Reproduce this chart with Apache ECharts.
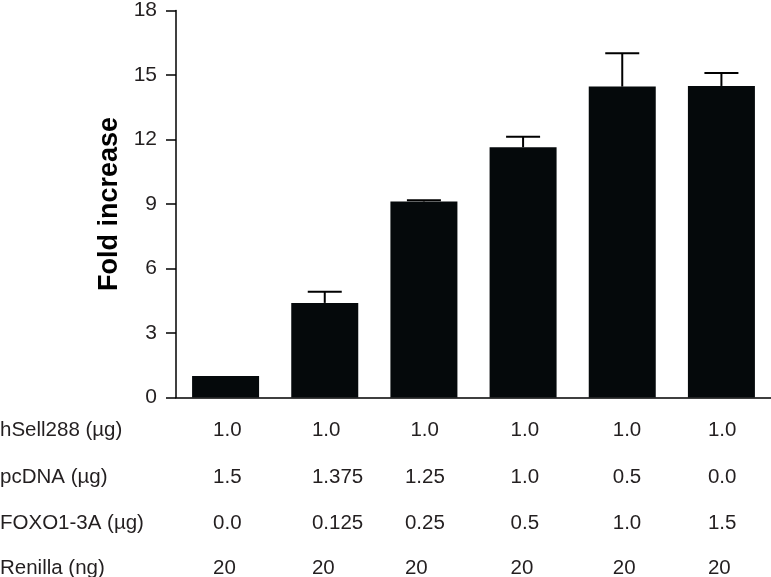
<!DOCTYPE html>
<html><head><meta charset="utf-8">
<script src="https://cdn.jsdelivr.net/npm/echarts@6/dist/echarts.min.js"></script>
<style>html,body{margin:0;padding:0;background:#fff}#c{width:771px;height:577px}</style>
</head><body><div id="c"></div>
<script>
const categories = ['1', '2', '3', '4', '5', '6'];
const foldIncrease = [1.0, 4.40, 9.12, 11.64, 14.46, 14.49];
const errorUpper = [1.0, 4.92, 9.17, 12.13, 16.01, 15.09];
const yAxisName = 'Fold increase';
const rowLabels = ['hSell288 (µg)', 'pcDNA (µg)', 'FOXO1-3A (µg)', 'Renilla (ng)'];
const hSell288 = ['1.0', '1.0', '1.0', '1.0', '1.0', '1.0'];
const pcDNA = ['1.5', '1.375', '1.25', '1.0', '0.5', '0.0'];
const foxo13A = ['0.0', '0.125', '0.25', '0.5', '1.0', '1.5'];
const renilla = ['20', '20', '20', '20', '20', '20'];

const tableRows = [hSell288, pcDNA, foxo13A, renilla];
const FONT = '"Liberation Sans", Arial, sans-serif';
const TEXT = '#231f20';

const chart = echarts.init(document.getElementById('c'), null, {renderer: 'canvas'});

chart.setOption({
  animation: false,
  backgroundColor: '#fff',
  grid: {left: 176, right: 0, top: 8, bottom: 179.5, containLabel: false},
  xAxis: {
    type: 'category',
    data: categories,
    axisLine: {lineStyle: {color: '#000', width: 1.5}},
    axisTick: {show: false},
    axisLabel: {show: false}
  },
  yAxis: {
    type: 'value',
    min: 0, max: 18, interval: 3,
    name: yAxisName,
    nameLocation: 'middle',
    nameGap: 46,
    nameTextStyle: {fontFamily: FONT, fontSize: 27, fontWeight: 'bold', color: '#000'},
    axisLine: {show: true, lineStyle: {color: '#000', width: 1.5}},
    axisTick: {show: true, inside: false, length: 10, lineStyle: {color: '#000', width: 1.5}},
    axisLabel: {fontFamily: FONT, fontSize: 21, color: TEXT, margin: 19},
    splitLine: {show: false}
  },
  series: [
    {
      type: 'bar',
      data: foldIncrease,
      barWidth: 67,
      itemStyle: {color: '#05090b'}
    },
    {
      type: 'custom',
      data: foldIncrease.map((v, i) => [i, v, errorUpper[i]]),
      encode: {x: 0, y: [1, 2]},
      z: 3,
      renderItem: function (params, api) {
        const i = api.value(0), lo = api.value(1), hi = api.value(2);
        if (!(hi > lo)) return null;
        const p0 = api.coord([i, lo]);
        const p1 = api.coord([i, hi]);
        const half = 17;
        const st = {stroke: '#000', lineWidth: 2};
        return {
          type: 'group',
          children: [
            {type: 'line', shape: {x1: p0[0], y1: p0[1], x2: p1[0], y2: p1[1]}, style: st},
            {type: 'line', shape: {x1: p1[0] - half, y1: p1[1], x2: p1[0] + half, y2: p1[1]}, style: st}
          ]
        };
      }
    }
  ]
});

// table beneath the chart, positioned by the category axis
const rowY = [430.5, 477.5, 523, 568];
const colOffset = [-12.5, -12.8, -19, -12.5, -9.5, -13.5];
const graphics = [];
rowLabels.forEach((lab, r) => {
  graphics.push({type: 'text', x: 0, y: rowY[r],
    style: {text: lab, font: '20.5px ' + FONT, fill: TEXT, textAlign: 'left', textVerticalAlign: 'middle'}});
  tableRows[r].forEach((val, c) => {
    const cx = chart.convertToPixel({xAxisIndex: 0}, categories[c]);
    let off = colOffset[c];
    if (c === 2 && val.length === 3) off = -13.5;
    graphics.push({type: 'text', x: cx + off, y: rowY[r],
      style: {text: val, font: '20.5px ' + FONT, fill: TEXT, textAlign: 'left', textVerticalAlign: 'middle'}});
  });
});
chart.setOption({graphic: graphics});
</script>
</body></html>
